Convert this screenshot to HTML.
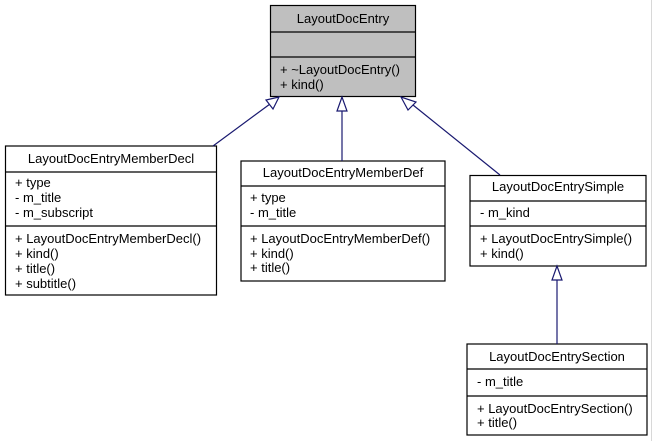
<!DOCTYPE html>
<html><head><meta charset="utf-8"><style>
html,body{margin:0;padding:0;background:#fff;width:653px;height:441px;overflow:hidden}
text{font-family:"Liberation Sans",Helvetica,sans-serif;font-size:13px;fill:#000}
</style></head><body>
<svg width="653" height="441" xmlns="http://www.w3.org/2000/svg">
<line x1="651.5" y1="0" x2="651.5" y2="441" stroke="#d8d8d8" stroke-width="1"/>
<g stroke="#000" stroke-width="1.2" fill="#fff">
<rect x="270.5" y="5.5" width="145" height="91" fill="#bfbfbf"/>
<line x1="270.5" y1="32" x2="415.5" y2="32"/><line x1="270.5" y1="57" x2="415.5" y2="57"/>
<rect x="5.5" y="146" width="211" height="149"/>
<line x1="5.5" y1="172" x2="216.5" y2="172"/><line x1="5.5" y1="226" x2="216.5" y2="226"/>
<rect x="241" y="161" width="204" height="120"/>
<line x1="241" y1="186" x2="445" y2="186"/><line x1="241" y1="226" x2="445" y2="226"/>
<rect x="470" y="175.5" width="176" height="90.5"/>
<line x1="470" y1="201" x2="646" y2="201"/><line x1="470" y1="226" x2="646" y2="226"/>
<rect x="467" y="344" width="180" height="91"/>
<line x1="467" y1="369" x2="647" y2="369"/><line x1="467" y1="396" x2="647" y2="396"/>
</g>
<g stroke="#191970" stroke-width="1.2" fill="#fff">
<line x1="213" y1="146" x2="270" y2="104"/>
<polygon points="279,97 266,100 273,109"/>
<line x1="342" y1="161" x2="342" y2="110"/>
<polygon points="342,97 337,111 347,111"/>
<line x1="500" y1="175" x2="413" y2="105"/>
<polygon points="401,97 408,110 416,102"/>
<line x1="557" y1="344" x2="557" y2="280"/>
<polygon points="557,266 552,280 562,280"/>
</g>
<text x="343" y="23" text-anchor="middle">LayoutDocEntry</text>
<text x="280" y="74">+ ~LayoutDocEntry()</text>
<text x="280" y="89">+ kind()</text>
<text x="111" y="163" text-anchor="middle">LayoutDocEntryMemberDecl</text>
<text x="15" y="187">+ type</text>
<text x="15" y="202">- m_title</text>
<text x="15" y="217">- m_subscript</text>
<text x="15" y="243">+ LayoutDocEntryMemberDecl()</text>
<text x="15" y="258">+ kind()</text>
<text x="15" y="273">+ title()</text>
<text x="15" y="288">+ subtitle()</text>
<text x="343" y="177" text-anchor="middle">LayoutDocEntryMemberDef</text>
<text x="250" y="202">+ type</text>
<text x="250" y="217">- m_title</text>
<text x="250" y="243">+ LayoutDocEntryMemberDef()</text>
<text x="250" y="258">+ kind()</text>
<text x="250" y="272">+ title()</text>
<text x="558" y="191" text-anchor="middle">LayoutDocEntrySimple</text>
<text x="480" y="217">- m_kind</text>
<text x="480" y="243">+ LayoutDocEntrySimple()</text>
<text x="480" y="258">+ kind()</text>
<text x="557" y="361" text-anchor="middle">LayoutDocEntrySection</text>
<text x="477" y="386">- m_title</text>
<text x="477" y="413">+ LayoutDocEntrySection()</text>
<text x="477" y="427">+ title()</text>
</svg>
</body></html>
